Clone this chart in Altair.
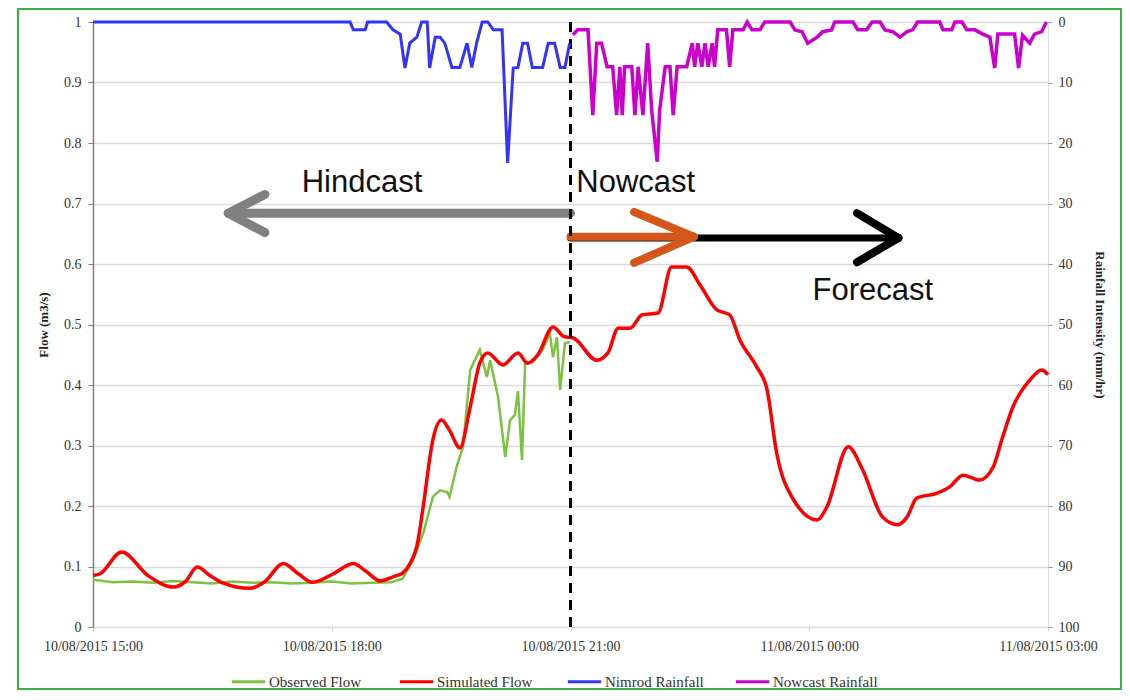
import altair as alt
import pandas as pd

# ---------------- data (hours after 10/08/2015 15:00) ----------------
obs_h = [0, 0.25, 0.5, 0.75, 1.0, 1.25, 1.5, 1.75, 2.0, 2.25, 2.5, 2.75, 3.0, 3.25, 3.5, 3.75,
         3.89, 4.02, 4.15, 4.27, 4.36, 4.45, 4.48, 4.57, 4.65, 4.74, 4.86, 4.95, 4.99, 5.09,
         5.18, 5.24, 5.30, 5.34, 5.39, 5.43, 5.53, 5.65, 5.74, 5.78, 5.83, 5.87, 5.93, 5.99]
obs_v = [0.078, 0.074, 0.075, 0.073, 0.076, 0.074, 0.072, 0.075, 0.073, 0.074, 0.072, 0.073,
         0.075, 0.072, 0.073, 0.074,
         0.080, 0.110, 0.155, 0.215, 0.226, 0.223, 0.215, 0.265, 0.298, 0.425, 0.458, 0.413,
         0.441, 0.380, 0.281, 0.342, 0.350, 0.390, 0.276, 0.436, 0.438, 0.458, 0.486, 0.446,
         0.479, 0.392, 0.469, 0.471]

sim_h = [0, 0.09, 0.36, 0.69, 1.01, 1.16, 1.31, 1.47, 1.63, 1.97, 2.16, 2.39, 2.58, 2.76,
         3.02, 3.27, 3.43, 3.61, 3.77, 3.89, 3.98, 4.08, 4.15, 4.27, 4.38, 4.48, 4.61, 4.74,
         4.86, 4.96, 5.15, 5.34, 5.46, 5.59, 5.78, 5.92, 6.03, 6.33, 6.47, 6.60, 6.75, 6.90,
         7.10, 7.27, 7.46, 7.63, 7.84, 8.00, 8.13, 8.34, 8.47, 8.59, 8.79, 9.10, 9.22, 9.49,
         9.67, 9.92, 10.11, 10.23, 10.35, 10.60, 10.77, 10.93, 11.14, 11.31, 11.43, 11.56,
         11.77, 11.92, 12.0]
sim_v = [0.085, 0.088, 0.124, 0.085, 0.066, 0.075, 0.099, 0.085, 0.073, 0.064, 0.075, 0.105,
         0.088, 0.074, 0.088, 0.105, 0.092, 0.076, 0.083, 0.089, 0.104, 0.140, 0.200, 0.309,
         0.342, 0.325, 0.296, 0.364, 0.436, 0.453, 0.433, 0.453, 0.436, 0.450, 0.496, 0.480,
         0.478, 0.441, 0.453, 0.494, 0.494, 0.516, 0.519, 0.595, 0.595, 0.565, 0.524, 0.516,
         0.474, 0.430, 0.392, 0.288, 0.213, 0.177, 0.198, 0.298, 0.260, 0.182, 0.169, 0.182,
         0.213, 0.221, 0.232, 0.251, 0.243, 0.264, 0.314, 0.364, 0.408, 0.425, 0.417]

nim_h = [0, 3.23, 3.27, 3.42, 3.45, 3.69, 3.77, 3.86, 3.92, 3.98, 4.07, 4.13, 4.20, 4.23,
         4.30, 4.36, 4.42, 4.51, 4.61, 4.70, 4.76, 4.82, 4.89, 4.96, 5.03, 5.14, 5.21, 5.28,
         5.34, 5.40, 5.46, 5.52, 5.65, 5.72, 5.80, 5.87, 5.93, 5.99]
nim_r = [0, 0, 1.3, 1.3, 0, 0, 1.3, 2.0, 7.6, 3.5, 2.5, 0, 0, 7.6,
         2.5, 2.5, 3.5, 7.5, 7.5, 3.5, 7.5, 3.5, 0, 0, 1.3, 1.3, 23.3, 7.6,
         7.5, 3.5, 3.5, 7.5, 7.5, 3.5, 3.5, 7.5, 7.5, 3.5]

now_h = [6.03, 6.09, 6.22, 6.28, 6.33, 6.39, 6.46, 6.53, 6.58, 6.62, 6.65, 6.68, 6.77, 6.81,
         6.85, 6.91, 6.97, 7.02, 7.09, 7.12, 7.19, 7.25, 7.29, 7.34, 7.46, 7.53, 7.56, 7.60,
         7.65, 7.69, 7.73, 7.78, 7.81, 7.85, 7.96, 8.00, 8.04, 8.17, 8.22, 8.28, 8.38, 8.44,
         8.76, 8.82, 8.91, 8.98, 9.10, 9.17, 9.28, 9.32, 9.55, 9.61, 9.72, 9.79, 9.89, 9.95,
         10.05, 10.14, 10.23, 10.30, 10.36, 10.64, 10.68, 10.79, 10.83, 10.92, 10.98, 11.08,
         11.18, 11.27, 11.33, 11.37, 11.58, 11.63, 11.68, 11.77, 11.83, 11.92, 11.98]
now_r = [2.1, 1.3, 1.3, 15.4, 3.5, 3.5, 7.4, 7.4, 15.4, 7.4, 15.4, 7.4, 7.4, 15.4,
         7.4, 15.4, 3.5, 14.6, 23.1, 14.6, 7.4, 7.4, 15.4, 7.4, 7.4, 3.5, 7.4, 3.5,
         7.4, 3.5, 7.4, 3.5, 7.4, 1.3, 1.3, 7.4, 1.3, 1.3, 0, 1.3, 1.3, 0,
         0, 1.3, 1.6, 3.5, 2.5, 1.6, 1.3, 0, 0, 1.3, 1.3, 0, 0, 1.3,
         1.6, 2.5, 1.6, 1.3, 0, 0, 1.3, 1.3, 0, 0, 1.3, 1.3,
         2.0, 2.5, 7.6, 2.0, 2.0, 7.6, 2.2, 3.5, 2.0, 1.6, 0]

series_names = ["Observed Flow", "Simulated Flow", "Nimrod Rainfall", "Nowcast Rainfall"]
series_colors = ["#7cc242", "#ff0000", "#3333ff", "#cc00cc"]

tick_hours = [0, 3, 6, 9, 12]
tick_labels = ["10/08/2015 15:00", "10/08/2015 18:00", "10/08/2015 21:00",
               "11/08/2015 00:00", "11/08/2015 03:00"]

# annotation content (in data units: hours, flow)
now_hour = 6
arrow_x1 = [6.0, 1.70, 1.70, 6.0, 9.60, 9.60, 6.0, 6.80, 6.80]
arrow_x2 = [1.75, 2.16, 2.16, 10.10, 10.12, 10.12, 7.52, 7.55, 7.55]
arrow_y1 = [0.684, 0.684, 0.684, 0.643, 0.684, 0.603, 0.645, 0.686, 0.602]
arrow_y2 = [0.684, 0.715, 0.652, 0.643, 0.643, 0.643, 0.645, 0.645, 0.645]
arrow_col = ["#808080"] * 3 + ["#000000"] * 3 + ["#d4561b"] * 3
arrow_w = [9, 9, 9, 7, 8, 8, 8, 8, 8]

label_text = ["Hindcast", "Nowcast", "Forecast"]
label_x = [3.38, 6.82, 9.80]
label_y = [0.734, 0.734, 0.555]

# ---------------- frames ----------------
obs = pd.DataFrame({"h": obs_h, "v": obs_v, "s": series_names[0]})
sim = pd.DataFrame({"h": sim_h, "v": sim_v, "s": series_names[1]})
nim = pd.DataFrame({"h": nim_h, "r": nim_r, "s": series_names[2]})
now = pd.DataFrame({"h": now_h, "r": now_r, "s": series_names[3]})
arrows = pd.DataFrame({"x1": arrow_x1, "x2": arrow_x2, "y1": arrow_y1, "y2": arrow_y2,
                       "c": arrow_col, "w": arrow_w, "i": list(range(len(arrow_x1)))})
labels = pd.DataFrame({"t": label_text, "h": label_x, "v": label_y})

SERIF = "Liberation Serif"
label_expr = "[" + ",".join("'%s'" % t for t in tick_labels) + "][round(datum.value/3)]"

X = alt.X("h:Q", scale=alt.Scale(domain=[0, 12], nice=False, zero=False),
          axis=alt.Axis(values=tick_hours, labelExpr=label_expr, title=None, grid=False,
                        domain=False, ticks=True, tickColor="#d0d0d0", tickSize=4,
                        labelFont=SERIF, labelFontSize=14, labelColor="#333333",
                        labelPadding=8, labelFlush=False))

flow_axis = alt.Axis(values=[i / 10 for i in range(11)], format="~g", title="Flow (m3/s)",
                     grid=True, gridColor="#d9d9d9", gridWidth=1.5,
                     domainColor="#7f7f7f", domainWidth=1.5, tickColor="#7f7f7f", tickSize=5,
                     labelFont=SERIF, labelFontSize=14, labelColor="#333333", labelPadding=7,
                     titleFont=SERIF, titleFontSize=13, titleFontWeight="bold",
                     titleColor="#222222", titlePadding=13)
Yf = alt.Y("v:Q", scale=alt.Scale(domain=[0, 1], nice=False), axis=flow_axis)

rain_axis = alt.Axis(values=list(range(0, 101, 10)), orient="right",
                     title="Rainfall Intensity (mm/hr)", grid=False, domain=False,
                     tickColor="#9a9a9a", tickSize=4,
                     labelFont=SERIF, labelFontSize=14, labelColor="#333333", labelPadding=6,
                     titleFont=SERIF, titleFontSize=13, titleFontWeight="bold",
                     titleColor="#222222", titlePadding=13)
Yr = alt.Y("r:Q", scale=alt.Scale(domain=[0, 100], reverse=True, nice=False), axis=rain_axis)

color = alt.Color("s:N", scale=alt.Scale(domain=series_names, range=series_colors),
                  legend=alt.Legend(title=None, orient="none", direction="horizontal",
                                    legendX=137, legendY=641, padding=0, symbolType="stroke",
                                    symbolSize=1100, symbolStrokeWidth=3, labelFont=SERIF,
                                    labelFontSize=15, labelColor="#333333", labelOffset=2,
                                    gridAlign="all", columnPadding=19, labelLimit=220))

obs_line = alt.Chart(obs).mark_line(strokeWidth=2.5).encode(x=X, y=Yf, color=color)
sim_line = alt.Chart(sim).mark_line(strokeWidth=3.5, interpolate="monotone").encode(
    x=X, y=Yf, color=color)

vline = alt.Chart(pd.DataFrame({"h": [now_hour]})).mark_rule(
    color="black", strokeWidth=3, strokeDash=[10, 7]).encode(x="h:Q")

arrow_marks = alt.Chart(arrows).mark_rule(strokeCap="round").encode(
    x="x1:Q", x2="x2", y=alt.Y("y1:Q", scale=alt.Scale(domain=[0, 1], nice=False),
                                axis=flow_axis), y2="y2",
    color=alt.Color("c:N", scale=None), strokeWidth=alt.StrokeWidth("w:Q", scale=None),
    order="i:Q")

texts = alt.Chart(labels).mark_text(font="Liberation Sans", fontSize=31, color="#111111",
                                    align="center", baseline="middle").encode(
    x="h:Q", y=alt.Y("v:Q", scale=alt.Scale(domain=[0, 1], nice=False), axis=flow_axis),
    text="t:N")

border = alt.Chart(pd.DataFrame({"k": [1]})).mark_rect(
    fill=None, stroke="#3cb043", strokeWidth=2).encode(
    x=alt.value(-75), x2=alt.value(1028), y=alt.value(-13), y2=alt.value(667))

flow_group = alt.layer(obs_line, sim_line, texts, arrow_marks, vline, border)

nim_line = alt.Chart(nim).mark_line(strokeWidth=3).encode(x=X, y=Yr, color=color)
now_line = alt.Chart(now).mark_line(strokeWidth=3.5).encode(x=X, y=Yr, color=color)
rain_group = alt.layer(nim_line, now_line)

chart = alt.layer(flow_group, rain_group).resolve_scale(y="independent").properties(
    width=955, height=605,
    autosize=alt.AutoSizeParams(type="none"),
    padding={"left": 85, "top": 14, "right": 74, "bottom": 65},
).configure_view(stroke=None).configure(background="white")

chart.save("out.html", embed_options={"renderer": "svg", "actions": False})
